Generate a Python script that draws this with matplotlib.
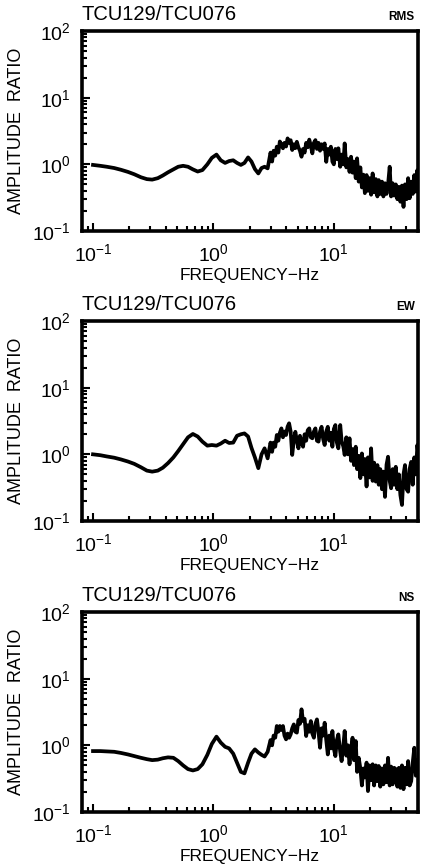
import math
import matplotlib
matplotlib.use("Agg")
import matplotlib.pyplot as plt
from matplotlib.ticker import LogLocator, FuncFormatter, NullFormatter

plt.rcParams['font.family'] = ['Liberation Sans', 'DejaVu Sans']
plt.rcParams['mathtext.fontset'] = 'custom'
plt.rcParams['mathtext.rm'] = 'Liberation Sans'
plt.rcParams['xtick.direction'] = 'in'
plt.rcParams['ytick.direction'] = 'in'

# ---------------- data ----------------
station_pair = "TCU129/TCU076"
components = ["RMS", "EW", "NS"]

# frequency samples (Hz), shared by the three spectral ratios
freq = [0.100, 0.115, 0.130, 0.150, 0.170, 0.195, 0.220, 0.250, 0.280, 0.310,
        0.345, 0.380, 0.420, 0.465, 0.510, 0.560, 0.615, 0.675, 0.740, 0.810,
        0.890, 0.970, 1.06, 1.15, 1.25, 1.35, 1.46, 1.57, 1.69, 1.81,
        1.94, 2.07, 2.21, 2.36, 2.51, 2.66, 2.82, 2.98,
        3.07, 3.16, 3.26, 3.36, 3.46, 3.56, 3.67, 3.78, 3.89, 4.01,
        4.13, 4.25, 4.38, 4.51, 4.65, 4.79, 4.93, 5.08, 5.23, 5.39,
        5.55, 5.72, 5.89, 6.07, 6.25, 6.44, 6.63, 6.83, 7.03, 7.24,
        7.46, 7.68, 7.91, 8.15, 8.39, 8.65, 8.91, 9.17, 9.45, 9.73,
        10.0, 10.3, 10.6, 10.9, 11.3, 11.6, 12.0, 12.3, 12.7, 13.1,
        13.5, 13.9, 14.3, 14.7, 15.2, 15.6, 16.1, 16.6, 17.1, 17.6,
        18.1, 18.7, 19.2, 19.8, 20.4, 21.0, 21.6, 22.3, 23.0, 23.6,
        24.3, 25.1, 25.8, 26.6, 27.4, 28.2, 29.1, 29.9, 30.8, 31.7,
        32.7, 33.7, 34.7, 35.7, 36.8, 37.9, 39.0, 40.2, 41.4, 42.6,
        43.9, 45.2, 46.6, 48.0, 49.4, 50.0]

amp_rms = [0.98, 0.95, 0.92, 0.88, 0.83, 0.77, 0.71, 0.64, 0.60, 0.59,
           0.62, 0.68, 0.76, 0.84, 0.92, 0.95, 0.92, 0.84, 0.78, 0.82,
           1.00, 1.25, 1.40, 1.15, 1.05, 1.12, 1.15, 1.05, 0.98, 1.05,
           1.27, 1.10, 0.85, 0.73, 0.88, 0.92, 0.87, 1.50,
           1.10, 1.60, 1.35, 1.84, 1.50, 2.20, 2.00, 1.74, 2.10, 1.85,
           2.45, 2.10, 2.30, 1.64, 2.00, 1.75, 2.18, 1.80, 1.60, 1.30,
           1.70, 1.50, 2.10, 1.80, 2.35, 1.90, 1.46, 2.10, 2.31, 1.70,
           2.10, 1.60, 2.00, 1.70, 2.06, 1.09, 1.70, 1.40, 1.84, 1.10,
           1.00, 1.70, 1.20, 1.74, 0.92, 1.40, 1.00, 2.06, 0.90, 1.20,
           0.77, 1.30, 0.75, 1.10, 0.62, 1.23, 0.55, 0.90, 0.45, 0.70,
           0.37, 0.69, 0.40, 0.62, 0.35, 0.73, 0.38, 0.60, 0.33, 0.58,
           0.36, 0.55, 0.33, 0.52, 0.36, 0.50, 0.92, 0.33, 0.52, 0.34,
           0.50, 0.30, 0.46, 0.275, 0.48, 0.23, 0.50, 0.30, 0.62, 0.31,
           0.55, 0.36, 0.69, 0.39, 0.82, 0.50]

amp_ew = [1.00, 0.97, 0.93, 0.89, 0.84, 0.78, 0.72, 0.64, 0.57, 0.55,
          0.57, 0.63, 0.74, 0.90, 1.12, 1.42, 1.80, 2.02, 1.85, 1.55,
          1.35, 1.38, 1.35, 1.45, 1.60, 1.48, 1.50, 1.90, 2.00, 2.06,
          1.85, 1.25, 0.90, 0.62, 1.00, 1.23, 0.87, 1.50,
          1.09, 1.50, 1.30, 1.95, 1.60, 2.10, 2.45, 1.80, 2.20, 1.95,
          2.60, 2.92, 2.20, 0.98, 1.60, 2.18, 1.60, 1.23, 1.90, 1.50,
          1.30, 2.00, 1.60, 2.30, 2.45, 1.80, 1.74, 2.20, 2.45, 1.60,
          1.55, 2.20, 2.59, 1.70, 1.38, 2.20, 2.59, 1.60, 2.10, 1.30,
          2.40, 2.75, 1.50, 1.23, 2.75, 1.60, 1.30, 0.98, 1.80, 1.00,
          1.74, 0.80, 1.20, 0.69, 1.30, 0.60, 0.95, 0.44, 1.03, 0.50,
          0.85, 0.33, 0.90, 0.45, 1.23, 0.40, 0.75, 0.39, 0.69, 0.35,
          0.60, 0.30, 0.55, 0.23, 0.70, 0.92, 0.40, 0.31, 0.60, 0.35,
          0.65, 0.30, 0.50, 0.245, 0.174, 0.50, 0.69, 0.30, 0.275, 0.60,
          0.77, 0.35, 0.90, 0.50, 1.38, 1.10]

amp_ns = [0.82, 0.82, 0.81, 0.80, 0.77, 0.73, 0.69, 0.65, 0.62, 0.60,
          0.61, 0.64, 0.66, 0.65, 0.58, 0.50, 0.44, 0.42, 0.44, 0.52,
          0.72, 1.05, 1.35, 1.10, 0.95, 0.90, 0.75, 0.55, 0.40, 0.38,
          0.55, 0.75, 0.87, 0.78, 0.72, 0.68, 0.80, 1.20,
          1.00, 1.40, 1.30, 1.95, 1.60, 1.95, 1.70, 1.95, 1.40, 1.23,
          1.50, 1.30, 1.46, 1.80, 2.06, 1.60, 1.55, 2.40, 2.10, 3.47,
          2.31, 2.50, 1.38, 2.00, 1.60, 2.31, 1.50, 1.30, 2.10, 2.45,
          1.60, 0.92, 1.80, 1.40, 2.18, 1.20, 0.73, 1.40, 0.90, 1.64,
          0.90, 0.69, 1.20, 1.46, 0.80, 0.58, 1.00, 1.64, 0.70, 1.00,
          0.52, 0.90, 1.30, 0.60, 1.16, 0.40, 0.65, 0.45, 0.25, 0.45,
          0.33, 0.55, 0.206, 0.50, 0.30, 0.52, 0.25, 0.50, 0.29, 0.49,
          0.24, 0.45, 0.26, 0.50, 0.28, 0.65, 0.25, 0.48, 0.26, 0.46,
          0.44, 0.24, 0.46, 0.23, 0.50, 0.22, 0.46, 0.26, 0.58, 0.25,
          0.29, 0.55, 0.92, 0.35, 0.60, 0.46]

series = [amp_rms, amp_ew, amp_ns]

# ---------------- figure ----------------
W, H = 422, 867
fig = plt.figure(figsize=(W / 100, H / 100), dpi=100)

ax_left_px, ax_right_px = 82, 418
ax_tops_px = [31, 321, 612]
ax_h_px = 200


def fmt(v, pos):
    e = int(round(math.log10(v)))
    return r'$\mathregular{10^{%d}}$' % e


for amp, comp, top in zip(series, components, ax_tops_px):
    ax = fig.add_axes([ax_left_px / W, 1 - (top + ax_h_px) / H,
                       (ax_right_px - ax_left_px) / W, ax_h_px / H])
    ax.plot(freq, amp, color='black', lw=2.7, solid_joinstyle='round')
    ax.set_xscale('log')
    ax.set_yscale('log')
    ax.set_xlim(0.081, 50)
    ax.set_ylim(0.1, 100)
    ax.xaxis.set_major_locator(LogLocator(base=10, numticks=10))
    ax.yaxis.set_major_locator(LogLocator(base=10, numticks=10))
    ax.xaxis.set_minor_locator(LogLocator(base=10, subs=range(2, 10), numticks=20))
    ax.yaxis.set_minor_locator(LogLocator(base=10, subs=range(2, 10), numticks=20))
    ax.xaxis.set_major_formatter(FuncFormatter(fmt))
    ax.yaxis.set_major_formatter(FuncFormatter(fmt))
    ax.xaxis.set_minor_formatter(NullFormatter())
    ax.yaxis.set_minor_formatter(NullFormatter())
    ax.tick_params(which='both', direction='in', top=False, right=False, width=1.5)
    ax.tick_params(axis='x', which='major', length=6, labelsize=14, pad=9)
    ax.tick_params(axis='y', which='major', length=6, labelsize=14, pad=8)
    ax.tick_params(which='minor', length=3.5)
    for s in ax.spines.values():
        s.set_linewidth(2.6)
    ax.set_xlabel("FREQUENCY\u2212Hz", fontsize=12.5, labelpad=2)
    ax.set_ylabel("AMPLITUDE  RATIO", fontsize=13, labelpad=5)
    ax.text(0.0, 1.035, station_pair, transform=ax.transAxes, ha='left', va='bottom', fontsize=14.5)
    ax.text(0.99, 1.04, comp, transform=ax.transAxes, ha='right', va='bottom', fontsize=8.5,
            fontweight='bold')

fig.savefig("out.png", dpi=100)
